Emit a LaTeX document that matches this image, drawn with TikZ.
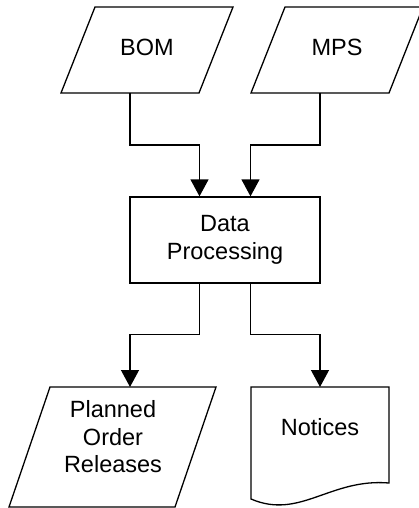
\documentclass[tikz,border=0pt]{standalone}
\usepackage{fontspec}
\setmainfont{Liberation Sans}
\usetikzlibrary{arrows.meta}
\begin{document}
\begin{tikzpicture}[x=1pt,y=-1pt,line width=1.3pt,line join=miter,
  flow/.style={-{Triangle[width=18pt,length=17pt]}},
  txt/.style={font=\fontsize{23.5}{27.5}\selectfont, align=center, inner sep=0pt}]
\useasboundingbox (0,0) rectangle (419,508);

% input data (parallelograms)
\draw (95,7) -- (233,7) -- (199,93) -- (61,93) -- cycle;
\node[txt] (bom) at (147,47) {BOM};
\coordinate (bomout) at (130,93);

\draw (285,7) -- (423,7) -- (389,93) -- (251,93) -- cycle;
\node[txt] (mps) at (337,47) {MPS};
\coordinate (mpsout) at (320,93);

% process
\node[draw, txt, minimum width=190pt, minimum height=86pt] (dp) at (225,240) {Data\\Processing};

% outputs
\draw (50,387) -- (216,387) -- (175,507) -- (9,507) -- cycle;
\node[txt] (por) at (113,437) {Planned\\Order\\Releases};
\coordinate (porin) at (130,387);

\draw (251,387) -- (389,387) -- (389,483)
  .. controls (330,478) and (300,520) .. (251,499) -- cycle;
\node[txt] (notices) at (320,427) {Notices};
\coordinate (notin) at (320,387);

% connectors
\draw[flow] (bomout) -- ++(0,52) -| ([xshift=-25.5pt]dp.north);
\draw[flow] (mpsout) -- ++(0,52) -| ([xshift=25.5pt]dp.north);
\draw[flow] ([xshift=-25.5pt]dp.south) -- ++(0,51) -| (porin);
\draw[flow] ([xshift=25.5pt]dp.south) -- ++(0,51) -| (notin);
\end{tikzpicture}
\end{document}
